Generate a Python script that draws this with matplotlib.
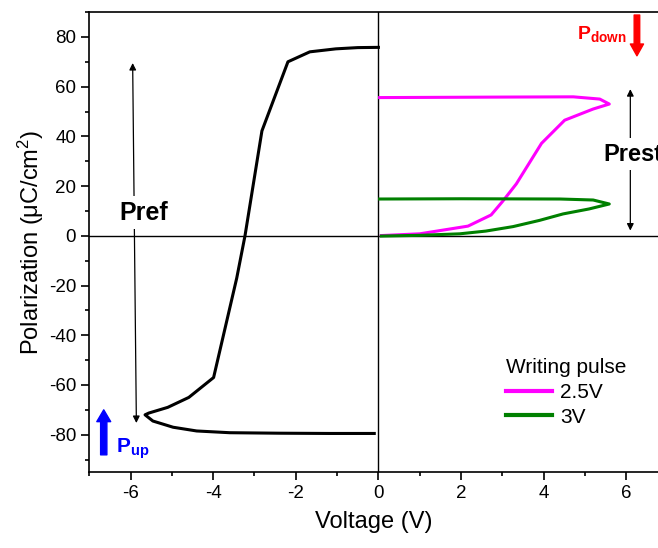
import matplotlib
matplotlib.use("Agg")
from matplotlib import pyplot as plt
from matplotlib.ticker import MultipleLocator

plt.rcParams["font.family"] = ["Liberation Sans", "DejaVu Sans"]
plt.rcParams["mathtext.fontset"] = "custom"
plt.rcParams["mathtext.rm"] = "Liberation Sans"
plt.rcParams["mathtext.it"] = "Liberation Sans:italic"
plt.rcParams["mathtext.bf"] = "Liberation Sans:bold"
plt.rcParams["axes.unicode_minus"] = False

## Data
# negative writing (black loop)
neg_v = [0.0, -0.5, -1.03, -1.66, -2.19, -2.82, -3.23, -3.43, -3.99, -4.59,
         -5.1, -5.56, -5.65, -5.46, -4.97, -4.4, -3.6, -2.4, -1.2, -0.1]
neg_p = [75.8, 75.7, 75.2, 74.0, 70.0, 42.2, 0.0, -17.0, -57.0, -65.0,
         -69.0, -71.3, -72.0, -74.5, -77.0, -78.5, -79.2, -79.4, -79.5, -79.5]

# 2.5V writing pulse (magenta)
v25 = [0.07, 1.0, 2.17, 2.73, 3.01, 3.34, 3.95, 4.51, 5.2, 5.59,
       5.36, 4.72, 3.0, 0.03]
p25 = [0.1, 0.8, 3.9, 8.4, 13.9, 20.9, 37.2, 46.5, 51.0, 53.0,
       55.0, 55.9, 55.8, 55.6]

# 3V writing pulse (green)
v3 = [0.07, 1.0, 1.97, 2.6, 3.26, 3.9, 4.47, 5.1, 5.59,
      5.2, 4.4, 2.0, 0.03]
p3 = [-0.1, 0.2, 0.8, 1.9, 3.7, 6.2, 8.8, 10.8, 12.8,
      14.4, 14.8, 14.9, 14.8]

series_labels = ["2.5V", "3V"]
legend_title = "Writing pulse"

## Figure
fig = plt.figure(figsize=(6.58, 5.48), dpi=100)
ax = fig.add_axes([0.1357, 0.1387, 1.0 - 0.1357, 0.978 - 0.1387])

ax.plot(neg_v, neg_p, color="black", lw=2.2)
ax.plot(v25, p25, color="#ff00ff", lw=2.2, label=series_labels[0])
ax.plot(v3, p3, color="#008000", lw=2.2, label=series_labels[1])

ax.axhline(0, color="black", lw=1.0, zorder=1)
ax.axvline(0, color="black", lw=1.0, zorder=1)

ax.set_xlim(-7, 6.77)
ax.set_ylim(-95, 90)
ax.spines["right"].set_visible(False)
for s in ["left", "bottom", "top"]:
    ax.spines[s].set_linewidth(1.2)

ax.xaxis.set_major_locator(MultipleLocator(2))
ax.xaxis.set_minor_locator(MultipleLocator(1))
ax.yaxis.set_major_locator(MultipleLocator(20))
ax.yaxis.set_minor_locator(MultipleLocator(10))
ax.tick_params(which="both", direction="out", width=1.2, labelsize=13.5,
               top=False, right=False)
ax.tick_params(which="major", length=6)
ax.tick_params(which="minor", length=3)

ax.set_xlabel("Voltage (V)", fontsize=17, labelpad=6)
ax.set_ylabel("Polarization (\u03bcC/cm$^2$)", fontsize=17, labelpad=2)

# Pref double arrow with label
ax.annotate("", xy=(-5.95, 69.5), xytext=(-5.86, -75.3),
            arrowprops=dict(arrowstyle="<|-|>", lw=0.9, color="black",
                            mutation_scale=10, shrinkA=0, shrinkB=0))
ax.text(-6.27, 6.5, "Pref", fontsize=18, fontweight="bold", ha="left",
        va="baseline", bbox=dict(facecolor="white", edgecolor="none", pad=3))

# Prest double arrow with label (cut at the right edge, as in the source)
ax.annotate("", xy=(6.1, 59.0), xytext=(6.1, 2.1),
            arrowprops=dict(arrowstyle="<|-|>", lw=0.9, color="black",
                            mutation_scale=10, shrinkA=0, shrinkB=0))
ax.text(5.44, 30.2, "Prest", fontsize=17, fontweight="bold", ha="left",
        va="baseline", clip_on=False,
        bbox=dict(facecolor="white", edgecolor="none", pad=3))

# P_down (red) and P_up (blue) markers
ax.annotate("", xy=(6.26, 72.4), xytext=(6.26, 88.8),
            arrowprops=dict(arrowstyle="simple,head_length=0.85,head_width=0.95,tail_width=0.4",
                            color="red", mutation_scale=10, shrinkA=0, shrinkB=0))
ax.text(4.8, 79.3, r"$\mathbf{P_{down}}$", color="red", fontsize=14,
        ha="left", va="baseline")

ax.annotate("", xy=(-6.65, -70.0), xytext=(-6.65, -88.1),
            arrowprops=dict(arrowstyle="simple,head_length=0.85,head_width=1.0,tail_width=0.45",
                            color="blue", mutation_scale=10, shrinkA=0, shrinkB=0))
ax.text(-6.36, -87.4, r"$\mathbf{P_{up}}$", color="blue", fontsize=15,
        ha="left", va="baseline")

leg = ax.legend(title=legend_title, frameon=False, fontsize=15, title_fontsize=15,
                loc="upper left", bbox_to_anchor=(0.733, 0.247), borderpad=0,
                borderaxespad=0, handlelength=2.2, handletextpad=0.4,
                labelspacing=0.27, alignment="left")
for line in leg.get_lines():
    line.set_linewidth(3)

plt.savefig("out.png", dpi=100)
